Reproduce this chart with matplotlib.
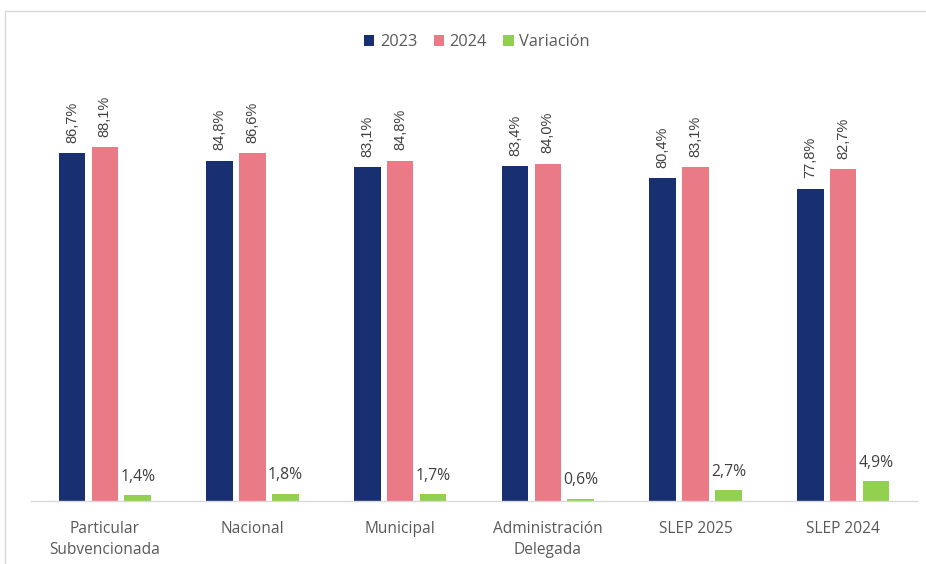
import matplotlib
matplotlib.use("Agg")
import matplotlib.pyplot as plt
from matplotlib.patches import Patch
from matplotlib.lines import Line2D
import numpy as np

categories = ["Particular\nSubvencionada", "Nacional", "Municipal",
              "Administración\nDelegada", "SLEP 2025", "SLEP 2024"]
v2023 = [86.7, 84.8, 83.1, 83.4, 80.4, 77.8]
v2024 = [88.1, 86.6, 84.8, 84.0, 83.1, 82.7]
variacion = [1.4, 1.8, 1.7, 0.6, 2.7, 4.9]
series_names = ["2023", "2024", "Variación"]

c_navy = "#182f72"
c_pink = "#ea7a86"
c_green = "#92d050"
txt = "#595959"

W, H = 926, 564
fig = plt.figure(figsize=(W / 100, H / 100), dpi=100)
ax = fig.add_axes([31 / W, (H - 501) / H, (917 - 31) / W, (501 - 99.6) / H])

x = np.arange(len(categories))
bw = 0.18
off = 0.223
b1 = ax.bar(x - off, v2023, bw, color=c_navy)
b2 = ax.bar(x, v2024, bw, color=c_pink)
b3 = ax.bar(x + off, variacion, bw, color=c_green)

def fmt(v):
    return f"{v:.1f}".replace(".", ",") + "%"

for bars, vals in ((b1, v2023), (b2, v2024)):
    for r, v in zip(bars, vals):
        ax.annotate(fmt(v), (r.get_x() + r.get_width() / 2, v),
                    xytext=(0, 7.5), textcoords="offset points",
                    rotation=90, ha="center", va="bottom",
                    fontsize=10.5, color="#404040", family="Liberation Sans")
for r, v in zip(b3, variacion):
    ax.annotate(fmt(v), (r.get_x() + r.get_width() / 2, v),
                xytext=(0, 7.5), textcoords="offset points",
                ha="center", va="bottom",
                fontsize=11.3, color="#404040", family="Open Sans")

ax.set_xlim(-0.5, len(categories) - 0.5)
ax.set_ylim(0, 100)
ax.set_yticks([])
ax.set_xticks(x)
ax.set_xticklabels(categories, fontsize=11.2, color=txt, family="Open Sans", linespacing=1.42)
ax.tick_params(axis="x", length=0, pad=14.5)
for s in ("top", "right", "left"):
    ax.spines[s].set_visible(False)
ax.spines["bottom"].set_color("#d9d9d9")
ax.spines["bottom"].set_linewidth(1.0)

handles = [Patch(facecolor=c, edgecolor="none") for c in (c_navy, c_pink, c_green)]
leg = fig.legend(handles, series_names, loc="center", bbox_to_anchor=(477 / W, 1 - 42 / H),
                 ncol=3, frameon=False, handlelength=0.62, handleheight=0.7,
                 handletextpad=0.35, columnspacing=1.0, prop={"family": "Open Sans", "size": 11.8})
for t in leg.get_texts():
    t.set_color(txt)

# chart border (left and top)
fig.add_artist(Line2D([5 / W, 5 / W], [0, 1 - 11 / H], color="#d9d9d9", lw=1))
fig.add_artist(Line2D([5 / W, 1], [1 - 11 / H, 1 - 11 / H], color="#d9d9d9", lw=1))

fig.savefig("out.png", dpi=100)
